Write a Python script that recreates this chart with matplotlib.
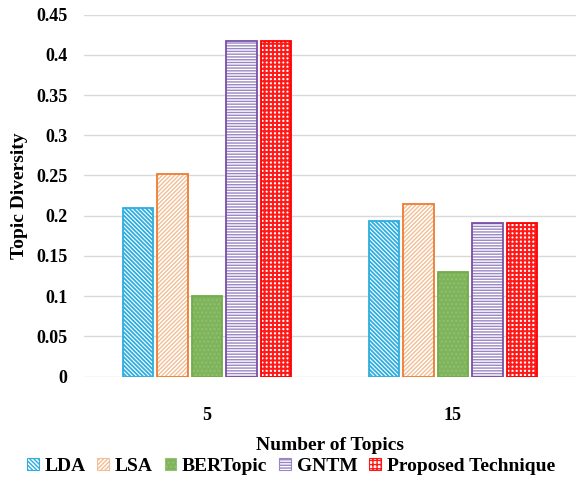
import numpy as np
import matplotlib.pyplot as plt
from matplotlib.patches import Patch

# data
categories = ['5', '15']
methods = ['LDA', 'LSA', 'BERTopic', 'GNTM', 'Proposed Technique']
lda = [0.209, 0.194]
lsa = [0.252, 0.214]
bertopic = [0.100, 0.130]
gntm = [0.417, 0.191]
proposed = [0.417, 0.191]

# styles: face, hatch colour, edge colour, hatch, hatch linewidth
styles = [
    ('white', '#2eaee0', '#2eaee0', '\\' * 8, 1.3),
    ('white', '#f2bf96', '#ed7d31', '/' * 8, 1.0),
    ('#80b45c', '#93c271', '#70ad47', '....', 0.8),
    ('white', '#9a86c4', '#7a4ea8', '------', 1.0),
    ('white', '#ff1a1a', '#ff0000', '++++', 1.5),
]

plt.rcParams['font.family'] = 'Liberation Serif'
plt.rcParams['font.weight'] = 'bold'

fig = plt.figure(figsize=(5.76, 4.86), dpi=100)
ax = fig.add_axes([0.1458, 0.2253, 0.8542, 0.7445])

x = np.arange(len(categories))
values = [lda, lsa, bertopic, gntm, proposed]
width = 0.124
pitch = 0.14
handles = []
for i, (vals, (fc, hc, ec, hatch, hlw)) in enumerate(zip(values, styles)):
    pos = x + (i - 2) * pitch
    with plt.rc_context({'hatch.linewidth': hlw}):
        bars = ax.bar(pos, vals, width, color=fc, edgecolor=hc, hatch=hatch, linewidth=0, zorder=2)
        h = Patch(facecolor=fc, edgecolor=hc, hatch=hatch, linewidth=0.8)
    for b in bars:
        if hasattr(b, 'set_hatch_linewidth'):
            b.set_hatch_linewidth(hlw)
    if hasattr(h, 'set_hatch_linewidth'):
        h.set_hatch_linewidth(hlw)
    ax.bar(pos, vals, width, color='none', edgecolor=ec, linewidth=1.3, zorder=3)
    handles.append(h)

ax.set_xlim(-0.5, 1.5)
ax.set_ylim(0, 0.45)
ax.set_yticks(np.arange(0, 0.451, 0.05))
ax.set_yticklabels(['0', '0.05', '0.1', '0.15', '0.2', '0.25', '0.3', '0.35', '0.4', '0.45'])
ax.set_xticks(x)
ax.set_xticklabels(categories)
ax.tick_params(axis='y', length=0, pad=12, labelsize=13)
ax.tick_params(axis='x', length=0, pad=22, labelsize=13)
for s in ax.spines.values():
    s.set_visible(False)
ax.grid(axis='y', color='#d9d9d9', linewidth=1.0, zorder=0)
ax.set_axisbelow(True)

ax.set_ylabel('Topic Diversity', fontsize=14, fontweight='bold', labelpad=6)
ax.set_xlabel('Number of Topics', fontsize=14, fontweight='bold', labelpad=9)

fig.legend(handles, methods, loc='center', bbox_to_anchor=(0.505, 0.04), ncol=5,
           frameon=False, prop={'size': 14, 'weight': 'bold'},
           handlelength=0.6, handleheight=0.6, handletextpad=0.3, columnspacing=0.6)

fig.savefig('out.png', dpi=100)
